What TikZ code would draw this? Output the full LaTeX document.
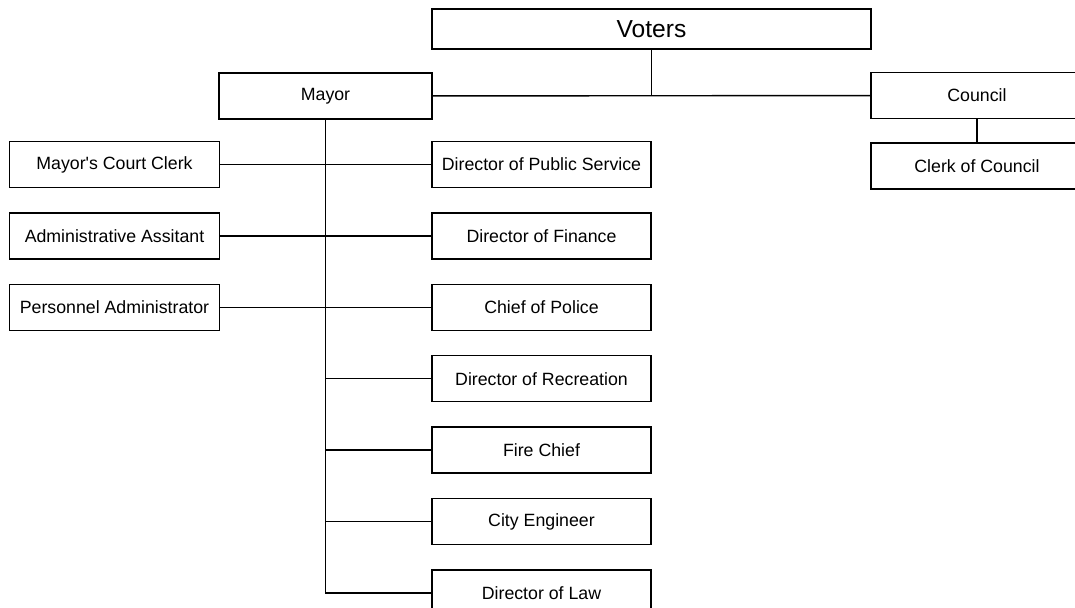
\documentclass[tikz,border=0pt]{standalone}
\usepackage{fontspec}
\setmainfont{Liberation Sans}
\usetikzlibrary{positioning}

\begin{document}
\begin{tikzpicture}[x=0.02cm, y=-0.02cm, line width=0.8pt, node distance=0.48cm,
        office/.style={rectangle, draw, font=\fontsize{10.1pt}{12pt}\selectfont,
            minimum width=4.2cm, minimum height=0.92cm, inner sep=0pt},
        dept/.style={office, minimum width=4.38cm}]
    \useasboundingbox (0,0) rectangle (1075,608);

    \node (voters) at (651.5, 29) [rectangle, draw, font=\fontsize{14pt}{16pt}\selectfont,
        minimum width=8.78cm, minimum height=0.8cm] {Voters};
    \node (mayor) at (325.5, 96) [office, minimum width=4.26cm] {Mayor};
    \node (council) at (977, 95.5) [office, minimum width=4.24cm] {Council};
    \node (clerk) [office, minimum width=4.24cm, below=0.46cm of council] {Clerk of Council};

    % staff on the left
    \node (courtclerk) at (114.5, 164.5) [office] {Mayor\textquotesingle s Court Clerk};
    \node (assistant) [office, below=of courtclerk] {Administrative Assitant};
    \node (personnel) [office, below=of assistant] {Personnel Administrator};

    % departments on the right
    \node (service) at (541.5, 164.5) [dept] {Director of Public Service};
    \node (finance) [dept, below=of service] {Director of Finance};
    \node (police) [dept, below=of finance] {Chief of Police};
    \node (recreation) [dept, below=of police] {Director of Recreation};
    \node (fire) [dept, below=of recreation] {Fire Chief};
    \node (engineer) [dept, below=of fire] {City Engineer};
    \node (law) [dept, below=of engineer] {Director of Law};

    \draw (voters.south) -- (voters.south |- mayor.east);
    \draw (mayor) -- (council);
    \draw (council) -- (clerk);

    \draw (mayor.south) -- (mayor.south |- law.west) -- (law.west);
    \draw (courtclerk) -- (service);
    \draw (assistant) -- (finance);
    \draw (personnel) -- (police);
    \draw (mayor.south |- recreation.west) -- (recreation.west);
    \draw (mayor.south |- fire.west) -- (fire.west);
    \draw (mayor.south |- engineer.west) -- (engineer.west);
\end{tikzpicture}
\end{document}
